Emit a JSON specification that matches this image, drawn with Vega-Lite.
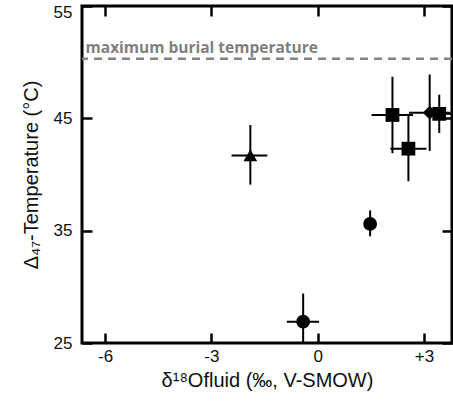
{
  "$schema": "https://vega.github.io/schema/vega-lite/v6.json",
  "width": 370,
  "height": 337,
  "autosize": {"type": "none"},
  "padding": {"left": 82, "top": 6, "right": 1, "bottom": 59},
  "background": "white",
  "config": {
    "view": {"stroke": "black", "strokeWidth": 3},
    "font": "Liberation Sans",
    "axis": {
      "domain": false,
      "grid": false,
      "tickColor": "black",
      "tickWidth": 2.5,
      "tickSize": -10,
      "labelFont": "Liberation Sans",
      "labelFontSize": 17,
      "labelColor": "#111",
      "titleFont": "Liberation Sans",
      "titleFontSize": 20,
      "titleFontWeight": "normal",
      "titleColor": "#111"
    }
  },
  "datasets": {
    "pts": [
      {"x": -1.90, "y": 41.7, "xlo": -2.43, "xhi": -1.42, "ylo": 39.1, "yhi": 44.4, "shape": "triangle"},
      {"x": -0.41, "y": 26.9, "xlo": -0.87, "xhi": 0.04, "ylo": 25.0, "yhi": 29.4, "shape": "circle"},
      {"x": 1.48, "y": 35.6, "xlo": 1.48, "xhi": 1.48, "ylo": 34.5, "yhi": 36.8, "shape": "circle"},
      {"x": 2.11, "y": 45.3, "xlo": 1.52, "xhi": 2.69, "ylo": 41.9, "yhi": 48.7, "shape": "square"},
      {"x": 2.56, "y": 42.3, "xlo": 2.05, "xhi": 3.07, "ylo": 39.4, "yhi": 45.4, "shape": "square"},
      {"x": 3.16, "y": 45.5, "xlo": 2.58, "xhi": 3.74, "ylo": 42.1, "yhi": 48.9, "shape": "diamond"},
      {"x": 3.43, "y": 45.4, "xlo": 3.05, "xhi": 3.81, "ylo": 43.7, "yhi": 47.1, "shape": "square"}
    ],
    "ref": [{"x": -6.55, "y": 50.3, "ty": 50.8, "label": "maximum burial temperature"}]
  },
  "layer": [
    {
      "data": {"name": "pts"},
      "mark": {"type": "rule", "color": "black", "strokeWidth": 2, "clip": true},
      "encoding": {
        "x": {"field": "xlo", "type": "quantitative",
              "scale": {"domain": [-6.65, 3.79], "nice": false, "zero": false},
              "axis": {"orient": "bottom", "values": [-6, -3, 0, 3], "labelExpr": "datum.value > 0 ? '+' + datum.value : '' + datum.value", "labelPadding": 15, "title": "δ¹⁸Ofluid (‰, V-SMOW)", "titlePadding": 6}},
        "x2": {"field": "xhi"},
        "y": {"field": "y", "type": "quantitative",
              "scale": {"domain": [25, 55], "nice": false, "zero": false},
              "axis": {"orient": "left", "values": [25, 35, 45, 55], "labelPadding": 20, "title": "Δ₄₇-Temperature (°C)", "titlePadding": 12,
                       "labelOffset": {"condition": {"test": "datum.value == 55", "value": 6}, "value": 0}}}
      }
    },
    {
      "data": {"name": "pts"},
      "mark": {"type": "rule", "color": "black", "strokeWidth": 2, "clip": true},
      "encoding": {
        "x": {"field": "x", "type": "quantitative",
              "axis": {"orient": "top", "values": [-6, -3, 0, 3], "labels": false, "title": null}},
        "y": {"field": "ylo", "type": "quantitative",
              "axis": {"orient": "right", "values": [25, 35, 45, 55], "labels": false, "title": null}},
        "y2": {"field": "yhi"}
      }
    },
    {
      "data": {"name": "ref"},
      "mark": {"type": "rule", "color": "#858585", "strokeWidth": 2.5, "strokeDash": [8, 6]},
      "encoding": {
        "y": {"field": "y", "type": "quantitative", "axis": null}
      }
    },
    {
      "data": {"name": "ref"},
      "mark": {"type": "text", "font": "Open Sans", "fontWeight": "bold", "fontSize": 15.5, "color": "#7f7f7f", "align": "left", "baseline": "alphabetic"},
      "encoding": {
        "x": {"field": "x", "type": "quantitative", "axis": null},
        "y": {"field": "ty", "type": "quantitative", "axis": null},
        "text": {"field": "label"}
      }
    },
    {
      "data": {"name": "pts"},
      "mark": {"type": "point", "filled": true, "color": "black", "opacity": 1, "size": 190, "clip": true},
      "encoding": {
        "x": {"field": "x", "type": "quantitative", "axis": null},
        "y": {"field": "y", "type": "quantitative", "axis": null},
        "shape": {"field": "shape", "type": "nominal",
                  "scale": {"domain": ["triangle", "circle", "square", "diamond"], "range": ["triangle-up", "circle", "square", "diamond"]},
                  "legend": null}
      }
    }
  ],
  "resolve": {"axis": {"x": "independent", "y": "independent"}}
}
